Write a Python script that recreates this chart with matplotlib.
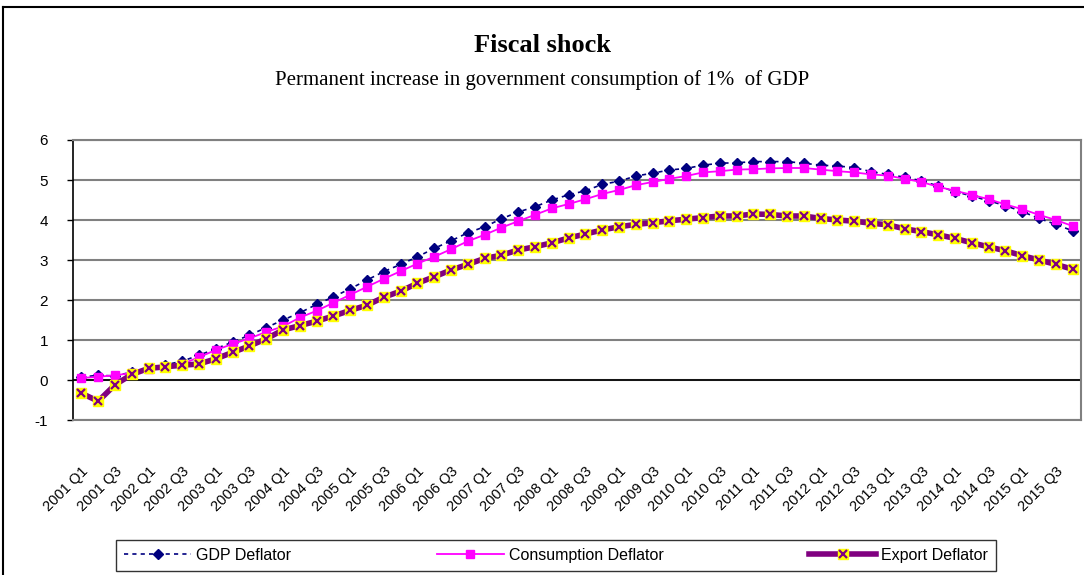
import matplotlib
matplotlib.use('Agg')
import matplotlib.pyplot as plt
from matplotlib.legend_handler import HandlerTuple
from matplotlib.lines import Line2D
import numpy as np

years = range(2001, 2016)
quarters = ['%dQ%d' % (y, q) for y in years for q in range(1, 5)]
tick_labels = ['%d Q%d' % (y, q) for y in years for q in (1, 3)]

gdp = [0.07, 0.12, 0.10, 0.20, 0.30, 0.38, 0.47, 0.62, 0.78, 0.95,
       1.12, 1.31, 1.50, 1.68, 1.89, 2.08, 2.28, 2.50, 2.71, 2.89,
       3.08, 3.29, 3.48, 3.68, 3.83, 4.03, 4.20, 4.33, 4.50, 4.63,
       4.73, 4.89, 4.97, 5.10, 5.17, 5.25, 5.29, 5.37, 5.42, 5.43,
       5.46, 5.46, 5.46, 5.42, 5.37, 5.35, 5.31, 5.21, 5.14, 5.07,
       4.98, 4.85, 4.71, 4.60, 4.48, 4.36, 4.21, 4.04, 3.89, 3.73]

consumption = [0.05, 0.08, 0.12, 0.17, 0.27, 0.33, 0.40, 0.57, 0.75, 0.90,
               1.04, 1.20, 1.34, 1.56, 1.73, 1.93, 2.13, 2.33, 2.53, 2.72,
               2.91, 3.08, 3.27, 3.47, 3.63, 3.81, 3.97, 4.13, 4.29, 4.40,
               4.52, 4.65, 4.75, 4.87, 4.95, 5.03, 5.10, 5.19, 5.22, 5.26,
               5.27, 5.29, 5.30, 5.30, 5.26, 5.22, 5.19, 5.14, 5.11, 5.03,
               4.95, 4.83, 4.73, 4.63, 4.52, 4.39, 4.27, 4.13, 4.00, 3.85]

export = [-0.33, -0.53, -0.12, 0.14, 0.29, 0.33, 0.37, 0.40, 0.53, 0.69,
          0.85, 1.03, 1.25, 1.36, 1.47, 1.60, 1.74, 1.87, 2.07, 2.22,
          2.42, 2.58, 2.75, 2.89, 3.04, 3.12, 3.25, 3.33, 3.43, 3.55,
          3.65, 3.75, 3.83, 3.89, 3.93, 3.98, 4.02, 4.06, 4.10, 4.10,
          4.15, 4.14, 4.10, 4.10, 4.04, 4.00, 3.97, 3.92, 3.88, 3.78,
          3.71, 3.63, 3.54, 3.43, 3.33, 3.23, 3.11, 3.00, 2.89, 2.77]

x = np.arange(len(quarters))
sans = 'Liberation Sans'
serif = 'Liberation Serif'

fig = plt.figure(figsize=(10.84, 5.75), dpi=100)
ax = fig.add_axes([73/1084, 1-420/575, 1008/1084, 280/575])

l1, = ax.plot(x, gdp, color='#000080', linestyle=(0, (2.5, 2.5)), linewidth=1.2,
              marker='D', markersize=5, markerfacecolor='#000080', markeredgecolor='#000080')
l2, = ax.plot(x, consumption, color='#FF00FF', linewidth=1.3,
              marker='s', markersize=5.5, markerfacecolor='#FF00FF', markeredgecolor='#FF00FF')
l3, = ax.plot(x, export, color='#800080', linewidth=4,
              marker='s', markersize=7.5, markerfacecolor='#FFFF00', markeredgecolor='#FFFF00')
l3x, = ax.plot(x, export, linestyle='none', marker='x', markersize=5.5,
               markeredgewidth=1.6, color='#800080')

ax.set_xlim(-0.5, len(quarters) - 0.5)
ax.set_ylim(-1, 6)
ax.set_yticks(range(-1, 7))
ax.set_yticklabels([str(v) for v in range(-1, 7)], family=sans, fontsize=11)
ax.set_xticks(x[::2])
ax.set_xticklabels(tick_labels, rotation=45, ha='right', va='top',
                   rotation_mode='anchor', family=sans, fontsize=10.5)
ax.tick_params(axis='x', length=0, pad=32)
ax.tick_params(axis='y', length=4, width=1, color='black', pad=14)

ax.grid(axis='y', color='#808080', linewidth=1.5)
ax.set_axisbelow(True)
ax.axhline(0, color='black', linewidth=1.2, zorder=1)
for s in ['top', 'right', 'bottom']:
    ax.spines[s].set_color('#808080')
    ax.spines[s].set_linewidth(1.5)
ax.spines['left'].set_color('black')
ax.spines['left'].set_linewidth(1.2)

fig.text(0.5, 1-45/575, 'Fiscal shock', ha='center', va='center',
         family=serif, fontweight='bold', fontsize=19)
fig.text(0.5, 1-80/575, 'Permanent increase in government consumption of 1%  of GDP',
         ha='center', va='center', family=serif, fontsize=15)

# outer chart border (left and top visible)
fig.add_artist(Line2D([3/1084, 3/1084], [0, 1-7/575], color='black', linewidth=1.5))
fig.add_artist(Line2D([3/1084, 1], [1-7/575, 1-7/575], color='black', linewidth=1.5))

leg = fig.legend([l1, l2, (l3, l3x)],
                 ['GDP Deflator', 'Consumption Deflator', 'Export Deflator'],
                 handler_map={tuple: HandlerTuple(ndivide=1, pad=0)},
                 loc='lower left', bbox_to_anchor=(116/1084, 4/575, 880/1084, 32/575),
                 mode='expand', ncol=3, frameon=True, fancybox=False,
                 edgecolor='black', handlelength=4.2, handletextpad=0.3,
                 borderaxespad=0, borderpad=0.5,
                 prop={'family': sans, 'size': 11.5})
leg.get_frame().set_linewidth(1.0)

plt.savefig('out.png', dpi=100)
